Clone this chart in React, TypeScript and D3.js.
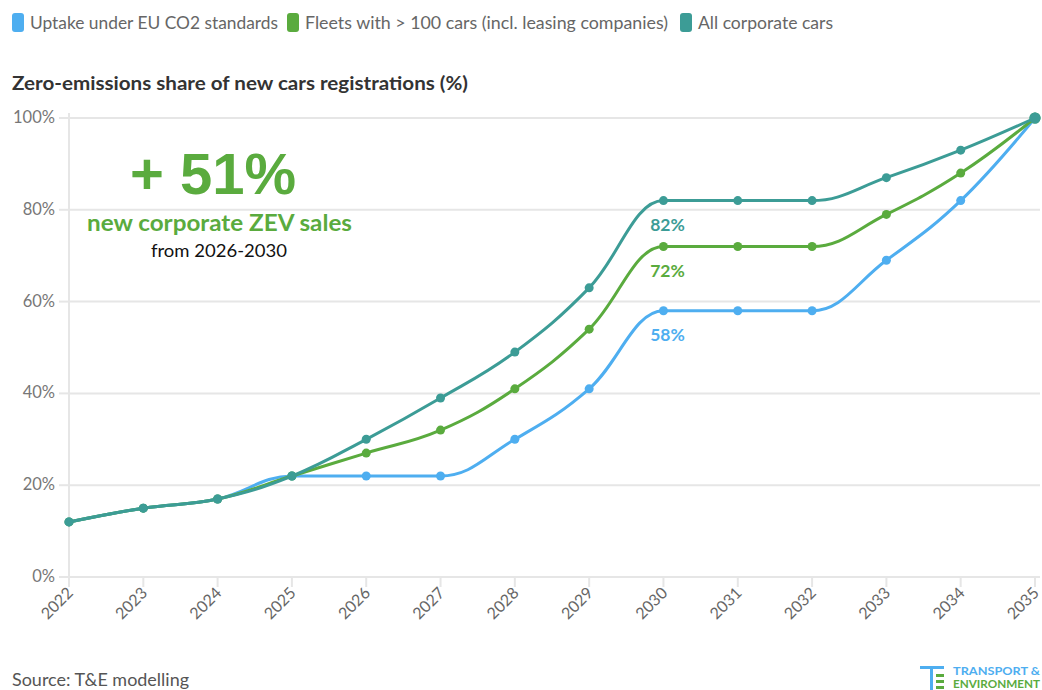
import React from "react";
import * as d3 from "d3";

const years = [2022, 2023, 2024, 2025, 2026, 2027, 2028, 2029, 2030, 2031, 2032, 2033, 2034, 2035];
const uptakeEU = [12, 15, 17, 22, 22, 22, 30, 41, 58, 58, 58, 69, 82, 100];
const fleets100 = [12, 15, 17, 22, 27, 32, 41, 54, 72, 72, 72, 79, 88, 100];
const allCorporate = [12, 15, 17, 22, 30, 39, 49, 63, 82, 82, 82, 87, 93, 100];
const yTicks = [0, 20, 40, 60, 80, 100];

const seriesNames = ["Uptake under EU CO2 standards", "Fleets with > 100 cars (incl. leasing companies)", "All corporate cars"];
const seriesColors = ["#4eaef0", "#5aab3e", "#3c9c96"];
const seriesData = [uptakeEU, fleets100, allCorporate];
const labelYear = 2030;

const W = 1042, H = 690;
const x = d3.scaleLinear().domain([2022, 2035]).range([69, 1035]);
const y = d3.scaleLinear().domain([0, 100]).range([577, 118]);

// Highcharts-like spline
function splinePath(pts: [number, number][]): string {
  const sm = 1.5, den = sm + 1;
  const p = d3.path();
  const rc: ([number, number] | null)[] = pts.map(() => null);
  pts.forEach((pt, i) => {
    const [px, py] = pt;
    let lcx = px, lcy = py;
    const last = pts[i - 1], next = pts[i + 1];
    if (last && next) {
      const [lx, ly] = last, [nx, ny] = next;
      lcx = (sm * px + lx) / den;
      lcy = (sm * py + ly) / den;
      let rcx = (sm * px + nx) / den;
      let rcy = (sm * py + ny) / den;
      if (rcx !== lcx) {
        const corr = ((rcy - lcy) * (rcx - px)) / (rcx - lcx) + py - rcy;
        lcy += corr; rcy += corr;
      }
      if (lcy > ly && lcy > py) { lcy = Math.max(ly, py); rcy = 2 * py - lcy; }
      else if (lcy < ly && lcy < py) { lcy = Math.min(ly, py); rcy = 2 * py - lcy; }
      if (rcy > ny && rcy > py) { rcy = Math.max(ny, py); lcy = 2 * py - rcy; }
      else if (rcy < ny && rcy < py) { rcy = Math.min(ny, py); lcy = 2 * py - rcy; }
      rc[i] = [rcx, rcy];
    }
    if (i === 0) p.moveTo(px, py);
    else {
      const r = rc[i - 1] || last;
      p.bezierCurveTo(r[0], r[1], lcx, lcy, px, py);
    }
  });
  return p.toString();
}

const font = "Lato, 'Source Sans Pro', 'Open Sans', sans-serif";

export default function App() {
  const legendX = [12, 287, 680];
  const legendW = [248, 363, 135];
  return (
    <svg width={W} height={H} style={{ position: "absolute", left: 0, top: 0, background: "#fff" }}>
      {/* legend */}
      {seriesNames.map((n, i) => (
        <g key={n}>
          <rect x={legendX[i]} y={13} width={12} height={19} rx={3} fill={seriesColors[i]} />
          <text x={legendX[i] + 18} y={29} fontFamily={font} fontSize={17.5} fill="#666" textLength={legendW[i]} lengthAdjust="spacingAndGlyphs">{n}</text>
        </g>
      ))}
      <text x={12} y={90} fontFamily={font} fontSize={18} fontWeight="bold" fill="#333" textLength={456} lengthAdjust="spacingAndGlyphs">
        Zero-emissions share of new cars registrations (%)
      </text>
      {/* grid */}
      {yTicks.map((t) => (
        <g key={t}>
          <line x1={69} x2={1040} y1={y(t)} y2={y(t)} stroke="#e6e6e6" strokeWidth={2} />
          <line x1={59} x2={69} y1={y(t)} y2={y(t)} stroke="#e6e6e6" strokeWidth={2} />
          <text x={55} y={y(t) + 5} textAnchor="end" fontFamily={font} fontSize={16.5} fill="#777">{t}%</text>
        </g>
      ))}
      <line x1={69} x2={69} y1={113} y2={577} stroke="#e6e6e6" strokeWidth={2} />
      {years.map((yr) => (
        <g key={yr}>
          <line x1={x(yr)} x2={x(yr)} y1={577} y2={587} stroke="#e6e6e6" strokeWidth={2} />
          <text transform={`translate(${x(yr) + 5},${594}) rotate(-45)`} textAnchor="end" fontFamily={font} fontSize={16} fill="#666">{yr}</text>
        </g>
      ))}
      {/* annotation */}
      <text x={213} y={194} textAnchor="middle" fontFamily="'Liberation Sans', Arial, sans-serif" fontWeight="bold" fontSize={58} fill="#5aab3e">+ 51%</text>
      <text x={219.5} y={231} textAnchor="middle" fontFamily={font} fontWeight="bold" fontSize={22.5} fill="#5aab3e" textLength={265} lengthAdjust="spacingAndGlyphs">new corporate ZEV sales</text>
      <text x={219} y={257} textAnchor="middle" fontFamily={font} fontSize={18} fill="#111" textLength={136} lengthAdjust="spacingAndGlyphs">from 2026-2030</text>
      {/* series */}
      {seriesData.map((d, si) => {
        const pts = d.map((v, i) => [x(years[i]), y(v)] as [number, number]);
        return (
          <g key={si}>
            <path d={splinePath(pts)} fill="none" stroke={seriesColors[si]} strokeWidth={3} />
            {pts.map((pt, i) => (
              <circle key={i} cx={pt[0]} cy={pt[1]} r={i === pts.length - 1 ? 5.5 : 4.5} fill={seriesColors[si]} />
            ))}
          </g>
        );
      })}
      {seriesData.map((d, si) => {
        const idx = years.indexOf(labelYear);
        return (
          <text key={si} x={x(labelYear) + 4} y={y(d[idx]) + 30} textAnchor="middle" fontFamily={font} fontWeight="bold" fontSize={17.5} fill={seriesColors[si]}>
            {d[idx]}%
          </text>
        );
      })}
      {/* source */}
      <text x={12} y={686} fontFamily={font} fontSize={17} fill="#555" textLength={177} lengthAdjust="spacingAndGlyphs">Source: T&amp;E modelling</text>
      {/* logo */}
      <g>
        <rect x={920} y={666} width={24} height={3} fill="#4eaef0" />
        <rect x={930} y={669} width={3} height={21} fill="#4eaef0" />
        <rect x={936} y={674} width={8} height={3} fill="#5aab3e" />
        <rect x={936} y={680} width={8} height={3} fill="#5aab3e" />
        <rect x={936} y={686} width={8} height={3} fill="#5aab3e" />
        <text x={953} y={675} fontFamily={font} fontWeight="bold" fontSize={11} fill="#4eaef0" textLength={87} lengthAdjust="spacingAndGlyphs">TRANSPORT &amp;</text>
        <text x={953} y={688} fontFamily={font} fontWeight="bold" fontSize={11} fill="#5aab3e" textLength={87} lengthAdjust="spacingAndGlyphs">ENVIRONMENT</text>
      </g>
    </svg>
  );
}
